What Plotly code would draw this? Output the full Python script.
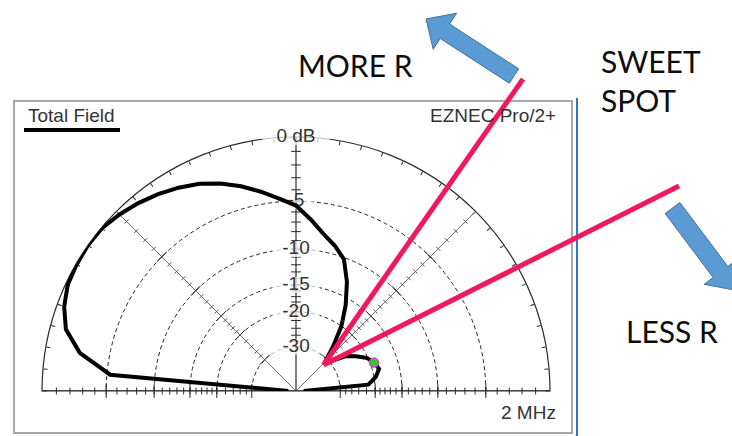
import numpy as np
import plotly.graph_objects as go

W, H = 732, 436

# ---- EZNEC elevation pattern (Total Field, 2 MHz) ----
elevation_deg = list(range(0, 181, 5))
total_field_db = [-60, -21.5, -19.6, -18.6, -19.2, -20.2, -22.3, -24.5, -29.0, -31.3,
                  -25.6, -20.0, -16.1, -12.8, -10.2, -9.0, -8.0, -6.7, -5.4, -4.7,
                  -3.9, -3.1, -2.4, -1.8, -1.35, -0.95, -0.6, -0.3, -0.05, 0.0,
                  -0.05, -0.15, -0.5, -1.1, -2.5, -5.3, -60]

# cursor marker on the pattern
cursor_theta = [20]
cursor_db = [-19.2]

# dB rings and labels (ARRL log scale)
ring_db = [-5, -10, -15, -20, -30]
label_db = [0, -5, -10, -15, -20, -30]
label_text = ["0 dB", "-5", "-10", "-15", "-20", "-30"]
label_width = [48, 24, 34, 34, 34, 34]
minor_tick_db = list(range(-1, -21, -1)) + [-22, -24, -26, -28]

# overlay texts
overlay_texts = ["MORE R", "SWEET<br>SPOT", "LESS R"]


def arrl(db):
    """ARRL log polar scale: every 2 dB shrinks the radius to 0.89."""
    return 0.89 ** (-np.asarray(db, dtype=float) / 2.0)


def px(x):
    return x / W


def py(y):
    return 1 - y / H


fig = go.Figure()

axis_col = "#2a2a2a"

# 45 / 135 degree spokes
for th in (45, 135):
    fig.add_trace(go.Scatterpolar(r=[0, 1], theta=[th, th], mode="lines",
                                  line=dict(color="#6e6e6e", width=1),
                                  hoverinfo="skip", cliponaxis=False))
# baseline
fig.add_trace(go.Scatterpolar(r=[1, 0, 1], theta=[0, 0, 180], mode="lines",
                              line=dict(color=axis_col, width=1.3),
                              hoverinfo="skip", cliponaxis=False))

# tick marks along the spokes / axes
rt = arrl(minor_tick_db)
rr = arrl(ring_db)
for th, sym, sz, col in ((0, "line-ns", 5, axis_col), (180, "line-ns", 5, axis_col),
                         (90, "line-ew", 7, axis_col),
                         (45, "line-nw", 4, "#555"), (135, "line-ne", 4, "#555")):
    fig.add_trace(go.Scatterpolar(r=rt, theta=[th] * len(rt), mode="markers",
                                  marker=dict(symbol=sym, size=sz,
                                              line=dict(color=col, width=1)),
                                  hoverinfo="skip", cliponaxis=False))
for th, sym in ((0, "line-ns"), (180, "line-ns"), (45, "line-nw"), (135, "line-ne")):
    fig.add_trace(go.Scatterpolar(r=rr, theta=[th] * len(rr), mode="markers",
                                  marker=dict(symbol=sym, size=10,
                                              line=dict(color=axis_col, width=1)),
                                  hoverinfo="skip", cliponaxis=False))

# label backgrounds and labels on the 90 deg axis
rl = arrl(label_db)
fig.add_trace(go.Scatterpolar(r=rl, theta=[90] * len(rl), mode="markers",
                              marker=dict(symbol="line-ew", size=label_width,
                                          line=dict(color="white", width=16)),
                              hoverinfo="skip", cliponaxis=False))
fig.add_trace(go.Scatterpolar(r=rl, theta=[90] * len(rl), mode="text",
                              text=label_text, textposition="middle center",
                              textfont=dict(family="Liberation Sans", size=19, color="#333"),
                              hoverinfo="skip", cliponaxis=False))

# pattern
fig.add_trace(go.Scatterpolar(r=arrl(total_field_db), theta=elevation_deg, mode="lines",
                              line=dict(color="black", width=4),
                              name="Total Field", cliponaxis=False))
fig.add_trace(go.Scatterpolar(r=arrl(cursor_db), theta=cursor_theta, mode="markers",
                              marker=dict(symbol="circle", size=9, color="#2ecc2e",
                                          line=dict(color="#e03ce0", width=1.5)),
                              hoverinfo="skip", cliponaxis=False))

fig.update_layout(
    width=W, height=H,
    margin=dict(l=0, r=0, t=0, b=0),
    paper_bgcolor="white",
    showlegend=False,
    polar=dict(
        domain=dict(x=[px(42), px(550)], y=[py(391), py(137)]),
        sector=[0, 180],
        bgcolor="rgba(0,0,0,0)",
        angularaxis=dict(rotation=0, direction="counterclockwise", showgrid=False,
                         showline=True, linecolor=axis_col, linewidth=1.2,
                         ticks="inside", ticklen=4, tickcolor=axis_col, tickwidth=1,
                         tickmode="linear", tick0=0, dtick=5,
                         showticklabels=False, layer="below traces"),
        radialaxis=dict(range=[0, 1], angle=90, tickmode="array",
                        tickvals=list(arrl(ring_db)), showticklabels=False, ticks="",
                        showline=True, linecolor=axis_col, linewidth=1.2,
                        showgrid=True, gridcolor="#222", gridwidth=1.2,
                        griddash="4px,3px", layer="below traces"),
    ),
)


def arrow_path(tail, tip, shaft_hw, head_hw, head_len):
    tail = np.array(tail, float)
    tip = np.array(tip, float)
    v = tip - tail
    L = np.hypot(*v)
    u = v / L
    n = np.array([-u[1], u[0]])
    base = tip - u * head_len
    pts = [tail + n * shaft_hw, base + n * shaft_hw, base + n * head_hw, tip,
           base - n * head_hw, base - n * shaft_hw, tail - n * shaft_hw]
    return "M " + " L ".join(f"{px(p[0]):.5f},{py(p[1]):.5f}" for p in pts) + " Z"


shapes = [
    # EZNEC window frame
    dict(type="rect", xref="paper", yref="paper", x0=px(14), y0=py(433), x1=px(572), y1=py(101),
         line=dict(color="#a8a8a8", width=2), layer="below"),
    dict(type="line", xref="paper", yref="paper", x0=px(577), y0=py(98), x1=px(577), y1=py(436),
         line=dict(color="#2f78c9", width=2)),
    # legend line sample
    dict(type="line", xref="paper", yref="paper", x0=px(24), y0=py(130), x1=px(120), y1=py(130),
         line=dict(color="black", width=4)),
    # pink guide lines
    dict(type="line", xref="paper", yref="paper", x0=px(323.5), y0=py(365), x1=px(523), y1=py(79),
         line=dict(color="#f2185c", width=5), layer="above"),
    dict(type="line", xref="paper", yref="paper", x0=px(323.5), y0=py(365), x1=px(679), y1=py(186),
         line=dict(color="#f2185c", width=5), layer="above"),
    # blue block arrows
    dict(type="path", xref="paper", yref="paper",
         path=arrow_path((514, 76), (426, 19), 8.6, 21.5, 22.5),
         fillcolor="#5b9bd5", line=dict(color="#41719c", width=1), layer="above"),
    dict(type="path", xref="paper", yref="paper",
         path=arrow_path((672.5, 208), (734, 290), 9.2, 20.5, 22.5),
         fillcolor="#5b9bd5", line=dict(color="#41719c", width=1), layer="above"),
]
fig.update_layout(shapes=shapes)

ez_font = dict(family="Liberation Sans", size=19, color="#333")
big_font = dict(family="Lato", size=30, color="#0d0d0d")
annotations = [
    dict(text="Total Field", x=px(26), y=py(115), xanchor="left", yanchor="middle", font=ez_font),
    dict(text="EZNEC Pro/2+", x=px(558), y=py(115), xanchor="right", yanchor="middle", font=ez_font),
    dict(text="2 MHz", x=px(558), y=py(412), xanchor="right", yanchor="middle", font=ez_font),
    dict(text=overlay_texts[0], x=px(296), y=py(65), xanchor="left", yanchor="middle", font=big_font),
    dict(text=overlay_texts[1], x=px(599), y=py(81), xanchor="left", yanchor="middle", align="left",
         font=big_font),
    dict(text=overlay_texts[2], x=px(624), y=py(331), xanchor="left", yanchor="middle", font=big_font),
]
for a in annotations:
    a.update(xref="paper", yref="paper", showarrow=False)
fig.update_layout(annotations=annotations)

fig.write_html("out.html", config={"displayModeBar": False},
               post_script="document.body.style.margin='0px';document.body.style.overflow='hidden';")
